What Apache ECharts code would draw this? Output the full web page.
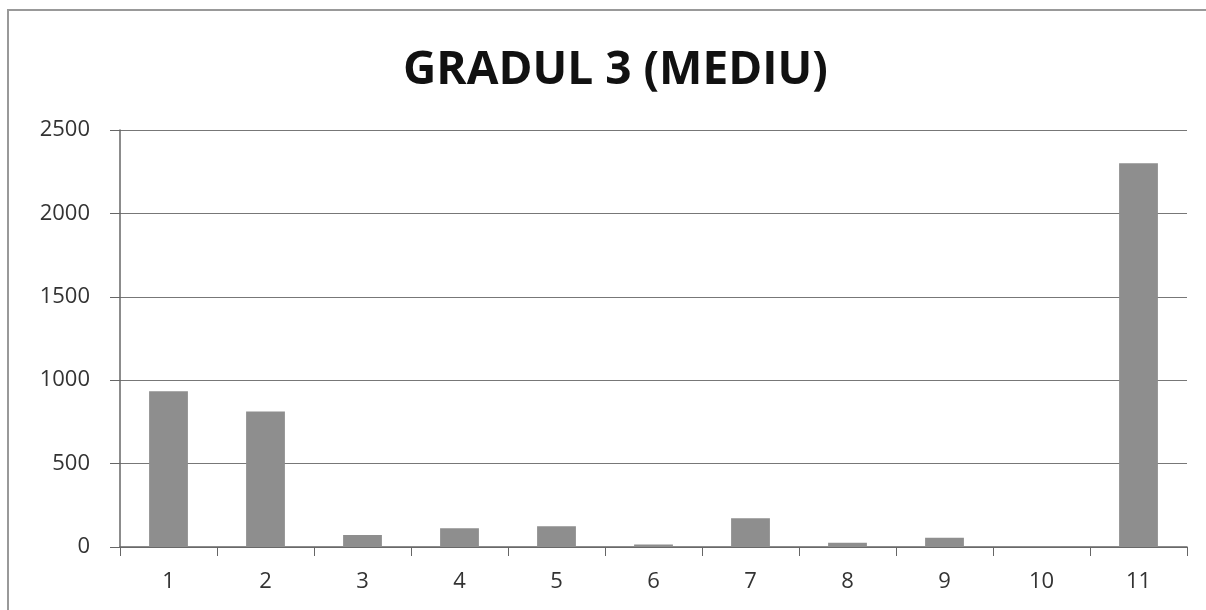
<!DOCTYPE html>
<html>
<head>
<meta charset="utf-8">
<title>GRADUL 3 (MEDIU)</title>
<script src="https://cdn.jsdelivr.net/npm/echarts@6/dist/echarts.min.js"></script>
<style>
    html, body { margin: 0; padding: 0; background: #fff; }
    #main { width: 1206px; height: 610px; }
</style>
</head>
<body>
<div id="main"></div>
<script>
// categorii si valori
var categories = ['1', '2', '3', '4', '5', '6', '7', '8', '9', '10', '11'];
var values = [934, 813, 72, 113, 125, 15, 173, 25, 55, 3, 2300];
var yTicks = { min: 0, max: 2500, interval: 500 };

var myChart = echarts.init(document.getElementById('main'));

var option = {
    backgroundColor: '#fff',
    animation: false,
    title: {
        text: 'GRADUL 3 (MEDIU)',
        left: 403,
        top: 48,
        padding: 0,
        textStyle: {
            fontFamily: 'Open Sans',
            fontWeight: 'bold',
            fontSize: 46,
            color: '#111'
        }
    },
    // rama gri in jurul graficului
    graphic: [{
        type: 'rect',
        shape: { x: 8, y: 10, width: 1210, height: 620 },
        style: { fill: 'none', stroke: '#999', lineWidth: 2 },
        silent: true
    }],
    grid: {
        left: 120,
        right: 19,
        top: 130,
        bottom: 63
    },
    xAxis: {
        type: 'category',
        data: categories,
        axisLine: { lineStyle: { color: '#666', width: 1.5 } },
        axisTick: { show: true, length: 9, lineStyle: { color: '#666' } },
        axisLabel: {
            margin: 24,
            fontFamily: 'Open Sans',
            fontSize: 22,
            color: '#333'
        }
    },
    yAxis: {
        type: 'value',
        min: yTicks.min,
        max: yTicks.max,
        interval: yTicks.interval,
        axisLine: { show: true, lineStyle: { color: '#666', width: 1.5 } },
        axisTick: { show: true, length: 10, lineStyle: { color: '#666' } },
        axisLabel: {
            margin: 30,
            fontFamily: 'Open Sans',
            fontSize: 22,
            color: '#333',
            formatter: function (v) { return String(v); }
        },
        splitLine: { lineStyle: { color: '#777', width: 1.2 } }
    },
    series: [
        {
            name: 'Gradul 3',
            type: 'bar',
            data: values,
            barWidth: '40%',
            itemStyle: { color: '#8e8e8e' }
        }
    ]
};
myChart.setOption(option, true);
window.onresize = myChart.resize;
</script>
</body>
</html>
